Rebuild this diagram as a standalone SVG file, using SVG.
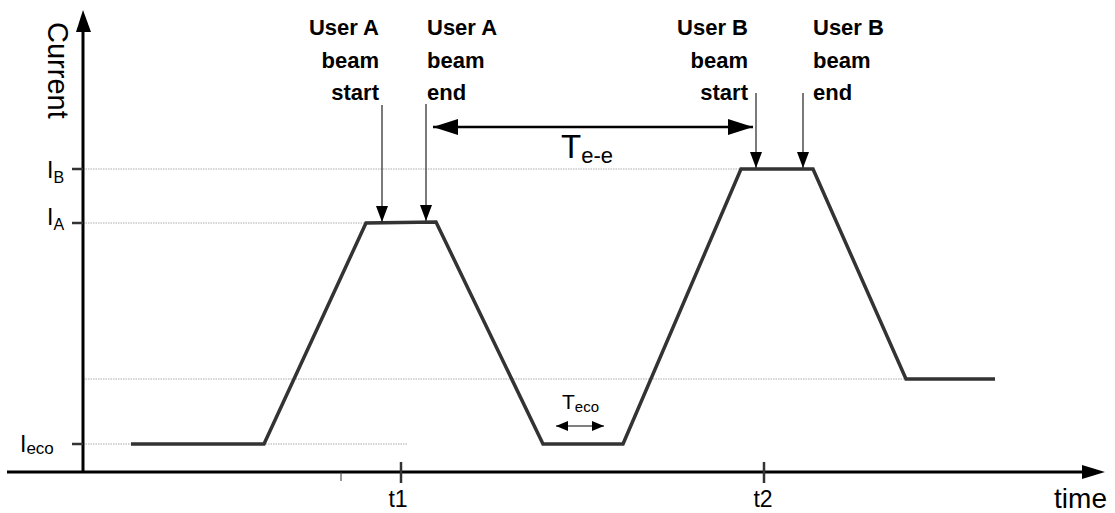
<svg xmlns="http://www.w3.org/2000/svg" width="1115" height="513" viewBox="0 0 1115 513">
<defs>
<style>
text{font-family:"Liberation Sans",Arial,sans-serif;fill:#000}
.lbl{font-size:22px;font-weight:bold}
.axis{stroke:#000;stroke-width:3;fill:none}
.grid{stroke:#aaa;stroke-width:1;stroke-dasharray:1.5 1;fill:none}
.sig{stroke:#333;stroke-width:3.5;fill:none;stroke-linejoin:miter}
.thin{stroke:#333;stroke-width:1.3;fill:none}
.tick{stroke:#333;stroke-width:2.5}
</style>
<marker id="bigHead" viewBox="0 0 25 16" refX="25" refY="8" markerWidth="25" markerHeight="16" markerUnits="userSpaceOnUse" orient="auto-start-reverse"><path d="M0,0 L25,8 L0,16 Z" fill="#000"/></marker>
<marker id="downHead" viewBox="0 0 16 12" refX="16" refY="6" markerWidth="16" markerHeight="12" markerUnits="userSpaceOnUse" orient="auto"><path d="M0,0 L16,6 L0,12 Z" fill="#000"/></marker>
<marker id="smallHead" viewBox="0 0 12 10" refX="12" refY="5" markerWidth="12" markerHeight="10" markerUnits="userSpaceOnUse" orient="auto-start-reverse"><path d="M0,0 L12,5 L0,10 Z" fill="#000"/></marker>
</defs>
<rect width="1115" height="513" fill="#fff"/>
<g id="gridlines">
<line class="grid" x1="83" y1="169" x2="742" y2="169"/>
<line class="grid" x1="83" y1="223" x2="366" y2="223"/>
<line class="grid" x1="83" y1="379" x2="906" y2="379"/>
<line class="grid" x1="83" y1="444" x2="408" y2="444"/>
</g>
<g id="axes">
<line class="axis" x1="83" y1="473" x2="83" y2="30"/>
<path d="M76,32 L83,10 L91,32 Z" fill="#000"/>
<line class="axis" x1="7" y1="472" x2="1084" y2="472"/>
<path d="M1082,465 L1105,472 L1082,479 Z" fill="#000"/>
<line class="tick" x1="72" y1="169" x2="83" y2="169"/>
<line class="tick" x1="72" y1="223" x2="83" y2="223"/>
<line class="tick" x1="72" y1="444" x2="83" y2="444"/>
<line class="tick" x1="401" y1="462" x2="401" y2="483"/>
<line class="tick" x1="764" y1="462" x2="764" y2="483"/>
<line stroke="#333" stroke-width="1" x1="341" y1="472" x2="341" y2="481"/>
<text transform="translate(48,22) rotate(90)" font-size="29">Current</text>
<text x="1107" y="508" font-size="28" text-anchor="end">time</text>
<text x="398" y="507" font-size="23" text-anchor="middle">t1</text>
<text x="763" y="507" font-size="23" text-anchor="middle">t2</text>
<text x="47" y="178" font-size="23">I<tspan font-size="16" dy="5">B</tspan></text>
<text x="47" y="225" font-size="23">I<tspan font-size="16" dy="5">A</tspan></text>
<text x="20" y="452" font-size="23">I<tspan font-size="17" dy="2">eco</tspan></text>
</g>
<g id="signal">
<polyline class="sig" points="131,444 264,444 366,223 436,222 543,444 623,444 741,169 813,169 906,379 995,379"/>
</g>
<g id="userA-start">
<text class="lbl" x="379" y="35" text-anchor="end">User A</text>
<text class="lbl" x="379" y="68" text-anchor="end">beam</text>
<text class="lbl" x="379" y="100" text-anchor="end">start</text>
</g>
<g id="userA-end">
<text class="lbl" x="427" y="35">User A</text>
<text class="lbl" x="427" y="68">beam</text>
<text class="lbl" x="427" y="100">end</text>
</g>
<g id="userB-start">
<text class="lbl" x="748" y="35" text-anchor="end">User B</text>
<text class="lbl" x="748" y="68" text-anchor="end">beam</text>
<text class="lbl" x="748" y="100" text-anchor="end">start</text>
</g>
<g id="userB-end">
<text class="lbl" x="813" y="35">User B</text>
<text class="lbl" x="813" y="68">beam</text>
<text class="lbl" x="813" y="100">end</text>
</g>
<g id="Tee">
<text x="561" y="158" font-size="33">T<tspan font-size="22" dy="5">e-e</tspan></text>
</g>
<g id="Teco">
<text x="562" y="409" font-size="21">T<tspan font-size="15" dy="3">eco</tspan></text>
</g>
<g id="connectors">
<line class="thin" x1="382" y1="105" x2="382" y2="222" marker-end="url(#downHead)"/>
<line class="thin" x1="426" y1="104" x2="426" y2="221" marker-end="url(#downHead)"/>
<line class="thin" x1="756" y1="93" x2="756" y2="168" marker-end="url(#downHead)"/>
<line class="thin" x1="803" y1="93" x2="803" y2="168" marker-end="url(#downHead)"/>
<line stroke="#000" stroke-width="2.5" x1="433" y1="127" x2="753" y2="127" marker-start="url(#bigHead)" marker-end="url(#bigHead)"/>
<line stroke="#000" stroke-width="1.2" x1="556" y1="426" x2="604" y2="426" marker-start="url(#smallHead)" marker-end="url(#smallHead)"/>
</g>
</svg>
